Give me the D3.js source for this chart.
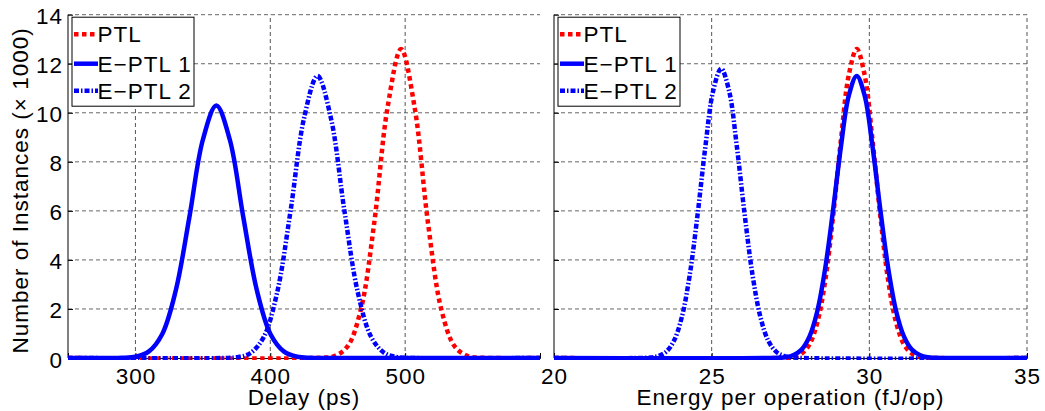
<!DOCTYPE html>
<html><head><meta charset="utf-8">
<script src="https://cdn.jsdelivr.net/npm/d3@7"></script>
<style>body{margin:0;background:#fff}svg{display:block;font-family:"Liberation Sans",Arial,sans-serif}</style>
</head><body><svg id="c" width="1045" height="411"></svg>
<script>
// ---- data (thousands of instances) ----
const seriesNames = ["PTL", "E\u2212PTL 1", "E\u2212PTL 2"];
const delayTicks = [300, 400, 500];
const energyTicks = [20, 25, 30, 35];
const countTicks = [0, 2, 4, 6, 8, 10, 12, 14];

const delayPTL_x = [250, 437, 447, 457, 467, 477, 487, 497, 507, 517, 527, 537, 547, 557, 600];
const delayPTL_y = [0, 0.01, 0.07, 0.45, 1.94, 5.48, 10.23, 12.6, 10.23, 5.48, 1.94, 0.45, 0.07, 0.01, 0];
const delayE1_x = [250, 280, 290, 300, 310, 320, 330, 340, 350, 360, 370, 380, 390, 400, 410, 420, 430, 440, 600];
const delayE1_y = [0, 0, 0.01, 0.05, 0.27, 0.99, 2.77, 5.74, 8.9, 10.3, 8.9, 5.74, 2.77, 0.99, 0.27, 0.05, 0.01, 0, 0];
const delayE2_x = [250, 365, 375, 385, 395, 405, 415, 425, 435, 445, 455, 465, 475, 485, 495, 505, 600];
const delayE2_y = [0, 0, 0.03, 0.19, 0.84, 2.65, 5.99, 9.77, 11.5, 9.77, 5.99, 2.65, 0.84, 0.19, 0.03, 0, 0];

const energyPTL_x = [20, 27.35, 27.6, 27.85, 28.1, 28.35, 28.6, 28.85, 29.1, 29.35, 29.6, 29.85, 30.1, 30.35, 30.6, 30.85, 31.1, 31.35, 31.6, 31.85, 35];
const energyPTL_y = [0, 0.01, 0.05, 0.18, 0.55, 1.44, 3.14, 5.77, 8.9, 11.55, 12.6, 11.55, 8.9, 5.77, 3.14, 1.44, 0.55, 0.18, 0.05, 0.01, 0];
const energyE1_x = [20, 27.1, 27.35, 27.6, 27.85, 28.1, 28.35, 28.6, 28.85, 29.1, 29.35, 29.6, 29.85, 30.1, 30.35, 30.6, 30.85, 31.1, 31.35, 31.6, 31.85, 32.1, 35];
const energyE1_y = [0, 0.01, 0.03, 0.12, 0.34, 0.87, 1.91, 3.65, 6.03, 8.63, 10.71, 11.5, 10.71, 8.63, 6.03, 3.65, 1.91, 0.87, 0.34, 0.12, 0.03, 0.01, 0];
const energyE2_x = [20, 23.05, 23.3, 23.55, 23.8, 24.05, 24.3, 24.55, 24.8, 25.05, 25.3, 25.55, 25.8, 26.05, 26.3, 26.55, 26.8, 27.05, 27.3, 27.55, 35];
const energyE2_y = [0, 0.02, 0.08, 0.25, 0.69, 1.65, 3.35, 5.81, 8.61, 10.91, 11.8, 10.91, 8.61, 5.81, 3.35, 1.65, 0.69, 0.25, 0.08, 0.02, 0];

// ---- styles ----
const styles = [
  {color: "#ff0000", dash: "4.5,3.5"},
  {color: "#0000ff", dash: null},
  {color: "#0000ff", dash: "5,2,1.5,2"}
];
const svg = d3.select("#c");
const y = d3.scaleLinear().domain([0, 14]).range([358, 14.7]);
const fontSize = 22.5;
const ls = "1px";
let clipId = 0;

function panel(x0, x1, domain, ticks, showYLabels, xs, ys, xLabel) {
  const x = d3.scaleLinear().domain(domain).range([x0, x1]);
  const g = svg.append("g");
  const cid = "clip" + (clipId++);
  svg.append("clipPath").attr("id", cid).append("rect")
    .attr("x", x0).attr("y", 0).attr("width", x1 - x0 + 1).attr("height", 360);
  // grid
  g.append("g").selectAll("line").data(countTicks.filter(t => t > 0)).join("line")
    .attr("x1", x0).attr("x2", x1).attr("y1", d => y(d)).attr("y2", d => y(d))
    .attr("stroke", "#666").attr("stroke-dasharray", "4,3").attr("stroke-width", 1);
  g.append("g").selectAll("line").data(ticks.filter(t => t > domain[0])).join("line")
    .attr("x1", d => x(d)).attr("x2", d => x(d)).attr("y1", y(0)).attr("y2", y(14))
    .attr("stroke", "#555").attr("stroke-dasharray", "4,3").attr("stroke-width", 1);
  // y axis
  const ya = g.append("g").attr("transform", `translate(${x0},0)`)
    .call(d3.axisRight(y).tickValues(countTicks).tickSize(5).tickFormat(showYLabels ? d3.format("d") : ""));
  ya.select(".domain").attr("d", `M0,${y(14)}V${y(0)}`).attr("stroke", "#000");
  ya.selectAll(".tick line").attr("stroke", "#000");
  ya.selectAll("text").attr("x", -5).attr("text-anchor", "end").attr("font-size", fontSize)
    .style("letter-spacing", ls)
    .attr("font-family", "Liberation Sans, Arial, sans-serif").attr("fill", "#000").attr("dy", "0.4em");
  // x axis
  const xa = g.append("g").attr("transform", `translate(0,${y(0)})`)
    .call(d3.axisTop(x).tickValues(ticks).tickSize(5).tickFormat(d3.format("d")));
  xa.select(".domain").attr("stroke", "#000");
  xa.selectAll(".tick line").attr("stroke", "#000");
  xa.selectAll("text").attr("y", 25.5).attr("dy", null).attr("font-size", fontSize)
    .style("letter-spacing", ls)
    .attr("font-family", "Liberation Sans, Arial, sans-serif").attr("fill", "#000");
  // x label
  g.append("text").attr("x", (x0 + x1) / 2).attr("y", 404.5).attr("text-anchor", "middle")
    .style("letter-spacing", ls).attr("font-size", fontSize).text(xLabel);
  // curves
  const line = d3.line().x(d => x(d[0])).y(d => y(d[1])).curve(d3.curveCatmullRom.alpha(0.5));
  const cg = g.append("g").attr("clip-path", `url(#${cid})`);
  xs.forEach((xv, i) => {
    const pts = xv.map((v, k) => [v, ys[i][k]]);
    const p = cg.append("path").datum(pts).attr("d", line).attr("fill", "none")
      .attr("stroke", styles[i].color).attr("stroke-width", 4.5).attr("stroke-linejoin", "round");
    if (styles[i].dash) p.attr("stroke-dasharray", styles[i].dash);
  });
  // legend
  const lg = g.append("g").attr("transform", `translate(${x0 + 4},${y(14) + 2.5})`);
  lg.append("rect").attr("width", 122).attr("height", 89).attr("fill", "#fff").attr("stroke", "#000").attr("stroke-width", 1);
  const rows = [17, 46.5, 73.5];
  seriesNames.forEach((n, i) => {
    const cy = rows[i];
    const l = lg.append("line").attr("x1", 2).attr("x2", 26).attr("y1", cy).attr("y2", cy)
      .attr("stroke", styles[i].color).attr("stroke-width", 4.5);
    if (styles[i].dash) l.attr("stroke-dasharray", styles[i].dash);
    lg.append("text").attr("x", 25.5).attr("y", cy).attr("dy", "0.36em").attr("font-size", fontSize)
      .style("letter-spacing", ls).text(n);
  });
}

panel(68, 540, [250, 600], delayTicks, true,
  [delayPTL_x, delayE1_x, delayE2_x], [delayPTL_y, delayE1_y, delayE2_y], "Delay (ps)");
panel(554, 1027, [20, 35], energyTicks, false,
  [energyPTL_x, energyE1_x, energyE2_x], [energyPTL_y, energyE1_y, energyE2_y], "Energy per operation (fJ/op)");

svg.append("text").attr("transform", `translate(28,${(y(0) + y(14)) / 2 + 4}) rotate(-90)`)
  .attr("text-anchor", "middle").attr("font-size", fontSize).style("letter-spacing", ls)
  .text("Number of Instances (\u00d7 1000)");
</script></body></html>
